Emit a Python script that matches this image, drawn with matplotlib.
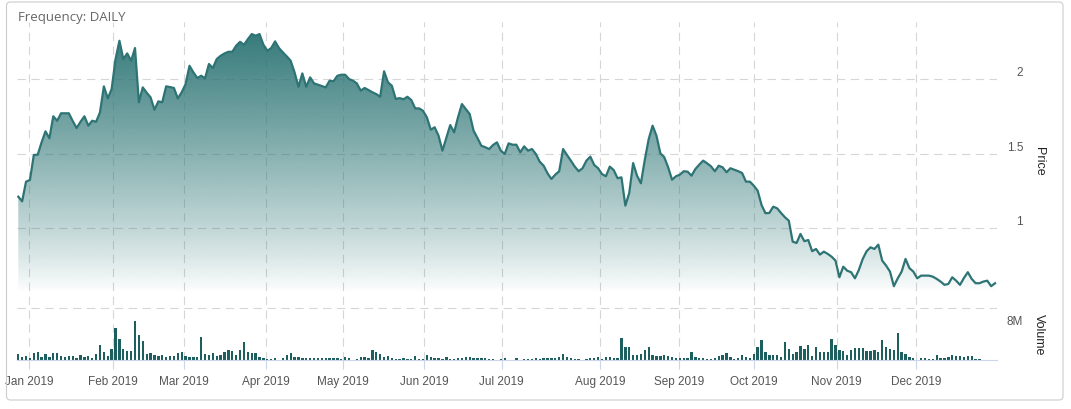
import numpy as np
import matplotlib.pyplot as plt
from matplotlib import transforms
from matplotlib.patches import FancyBboxPatch

# daily closing price, one value per trading day (2019)
price = [
    1.212, 1.181, 1.313, 1.324, 1.492, 1.494, 1.577, 1.651, 1.604, 1.752,
    1.722, 1.772, 1.772, 1.772, 1.720, 1.673, 1.715, 1.752, 1.689, 1.722,
    1.715, 1.778, 1.953, 1.872, 1.935, 2.136, 2.259, 2.136, 2.174, 2.125,
    2.210, 1.846, 1.946, 1.910, 1.879, 1.796, 1.852, 1.846, 1.953, 1.948,
    1.942, 1.872, 1.913, 1.968, 2.091, 2.047, 2.009, 2.024, 2.007, 2.103,
    2.076, 2.136, 2.158, 2.174, 2.185, 2.185, 2.226, 2.252, 2.232, 2.270,
    2.304, 2.293, 2.304, 2.232, 2.192, 2.210, 2.255, 2.210, 2.181, 2.154,
    2.125, 2.047, 1.950, 2.040, 1.950, 2.013, 1.973, 1.964, 1.955, 1.946,
    1.991, 1.987, 2.024, 2.031, 2.031, 2.002, 1.991, 1.973, 1.924, 1.942,
    1.928, 1.913, 1.901, 1.883, 2.054, 1.980, 1.957, 1.868, 1.874, 1.866,
    1.883, 1.861, 1.805, 1.805, 1.789, 1.745, 1.662, 1.678, 1.621, 1.521,
    1.606, 1.693, 1.644, 1.745, 1.834, 1.801, 1.767, 1.655, 1.606, 1.554,
    1.544, 1.532, 1.559, 1.577, 1.521, 1.499, 1.570, 1.561, 1.561, 1.510,
    1.550, 1.521, 1.532, 1.499, 1.447, 1.420, 1.369, 1.331, 1.360, 1.383,
    1.532, 1.492, 1.454, 1.414, 1.383, 1.403, 1.454, 1.481, 1.425, 1.403,
    1.364, 1.349, 1.414, 1.391, 1.336, 1.342, 1.152, 1.237, 1.438, 1.353,
    1.302, 1.460, 1.599, 1.689, 1.621, 1.503, 1.477, 1.409, 1.326, 1.349,
    1.360, 1.383, 1.380, 1.353, 1.398, 1.427, 1.454, 1.436, 1.416, 1.383,
    1.420, 1.409, 1.376, 1.403, 1.393, 1.383, 1.371, 1.313, 1.313, 1.286,
    1.252, 1.156, 1.101, 1.103, 1.145, 1.134, 1.103, 1.074, 1.051, 0.910,
    0.901, 0.962, 0.913, 0.921, 0.846, 0.861, 0.823, 0.843, 0.828, 0.809,
    0.783, 0.671, 0.742, 0.715, 0.705, 0.664, 0.720, 0.794, 0.846, 0.872,
    0.861, 0.890, 0.783, 0.749, 0.709, 0.611, 0.664, 0.709, 0.794, 0.732,
    0.709, 0.664, 0.682, 0.682, 0.682, 0.675, 0.660, 0.642, 0.620, 0.626,
    0.671, 0.648, 0.620, 0.666, 0.705, 0.660, 0.631, 0.631, 0.642, 0.648,
    0.611, 0.631,
]

# daily volume, millions of shares
volume = [
    0.9, 0.5, 0.55, 0.3, 1.1, 1.2, 0.5, 0.9, 0.5, 1.1,
    1.1, 0.55, 0.5, 0.6, 0.6, 0.3, 0.75, 0.4, 0.55, 0.3,
    0.9, 2.3, 1.2, 0.6, 1.7, 4.9, 3.2, 1.7, 1.4, 1.4,
    6.0, 3.8, 2.9, 0.9, 1.1, 0.8, 0.6, 0.8, 0.5, 0.6,
    0.6, 1.1, 1.2, 0.6, 0.5, 0.5, 0.5, 3.5, 0.9, 0.8,
    1.1, 0.6, 0.7, 1.2, 1.5, 1.4, 0.8, 1.5, 2.8, 1.2,
    1.1, 1.1, 0.5, 0.3, 0.15, 0.2, 0.25, 0.0, 0.35, 0.8,
    1.1, 0.45, 0.45, 0.35, 0.35, 0.3, 0.25, 0.25, 0.25, 0.25,
    0.25, 0.25, 0.25, 0.2, 0.4, 0.25, 0.05, 0.2, 0.4, 0.4,
    0.25, 1.5, 1.2, 0.9, 0.5, 0.6, 0.25, 0.2, 0.2, 0.3,
    0.1, 0.2, 0.6, 0.1, 0.15, 0.8, 0.4, 0.3, 0.35, 0.2,
    0.4, 0.15, 0.1, 0.3, 0.3, 0.45, 0.45, 0.35, 0.25, 0.25,
    0.3, 0.2, 0.2, 0.05, 0.1, 0.3, 0.05, 0.05, 0.25, 0.05,
    0.1, 0.2, 0.2, 0.25, 0.2, 0.25, 0.3, 0.3, 0.3, 0.45,
    0.9, 0.4, 0.3, 0.2, 0.1, 0.0, 0.2, 0.3, 0.3, 0.4,
    0.2, 0.5, 0.5, 0.3, 0.3, 3.4, 2.0, 2.0, 0.8, 0.8,
    1.0, 1.5, 2.0, 0.8, 0.6, 0.6, 0.7, 0.6, 0.45, 0.3,
    0.25, 0.25, 0.35, 1.2, 0.45, 0.35, 0.25, 0.2, 0.2, 0.35,
    0.6, 0.8, 1.1, 0.45, 0.2, 0.35, 0.7, 0.45, 0.35, 0.9,
    2.0, 3.1, 1.2, 0.8, 0.8, 0.8, 0.45, 2.8, 1.7, 0.9,
    1.2, 2.2, 1.7, 2.3, 0.6, 2.0, 1.2, 1.2, 1.2, 3.2,
    2.3, 1.5, 1.4, 0.8, 1.5, 1.8, 1.8, 1.9, 1.4, 1.4,
    1.5, 1.2, 3.1, 2.0, 1.7, 1.5, 4.2, 1.2, 0.9, 0.45,
    0.25, 0.0, 0.35, 0.35, 0.15, 0.2, 0.75, 0.35, 0.35, 0.45,
    0.75, 0.6, 0.6, 0.45, 0.6, 0.6, 0.2, 0.2, 0.0, 0.0,
    0.0, 0.0,
]

# month labels and the trading-day index where each one sits
month_labels = ["Jan 2019", "Feb 2019", "Mar 2019", "Apr 2019", "May 2019", "Jun 2019",
                "Jul 2019", "Aug 2019", "Sep 2019", "Oct 2019", "Nov 2019", "Dec 2019"]
month_idx = [2.8, 24.3, 42.6, 63.6, 83.4, 104.3, 124.2, 149.5, 169.8, 189.1, 210.3, 230.8]

price_ticks = [1, 1.5, 2]
price_tick_labels = ["1", "1.5", "2"]
volume_ticks = [8]
volume_tick_labels = ["8M"]

W, H = 1071, 410
TEAL = "#2e7475"
GRID = "#d6d6d6"
DASH = (0, (7.5, 5))
plt.rcParams['font.family'] = ['Liberation Sans', 'DejaVu Sans']

fig = plt.figure(figsize=(W / 100, H / 100), dpi=100)


def px_box(x0, y0, x1, y1):
    return [x0 / W, 1 - y1 / H, (x1 - x0) / W, (y1 - y0) / H]


ax = fig.add_axes(px_box(16.7, 23, 997, 293))
axv = fig.add_axes(px_box(16.7, 296, 997, 361))

x = np.arange(len(price))
xlim = (-0.4, 251.5)
ylim = (0.572, 2.385)

# price panel: gradient area under the line
ax.set_xlim(*xlim)
ax.set_ylim(*ylim)
grad = np.zeros((256, 1, 4))
grad[..., :3] = np.array([47, 118, 118]) / 255
grad[..., 3] = np.linspace(1.0, 0.0, 256)[:, None] ** 0.85
im = ax.imshow(grad, extent=[xlim[0], xlim[1], ylim[0], ylim[1]],
               aspect='auto', origin='upper', zorder=1, interpolation='bilinear')
area = ax.fill_between(x, price, ylim[0], color='none', lw=0)
im.set_clip_path(area.get_paths()[0], transform=ax.transData)
ax.plot(x, price, color=TEAL, lw=1.6, zorder=3, solid_joinstyle='round')

for v in price_ticks:
    ax.axhline(v, color=GRID, lw=0.8, ls=DASH, zorder=0)
for t in month_idx:
    ax.axvline(t, ymin=-0.252, ymax=1, color=GRID, lw=0.8, ls=DASH, zorder=0, clip_on=False)

lab_tf = transforms.offset_copy(ax.get_yaxis_transform(), fig, y=7, units='dots')
for v, s in zip(price_ticks, price_tick_labels):
    ax.text(1.0266, v, s, transform=lab_tf, ha='right', va='center', fontsize=8.5, color='#555555')

ax.set_xticks([])
ax.set_yticks([])
for sp in ax.spines.values():
    sp.set_visible(False)
ax.patch.set_visible(False)

# volume panel
axv.set_xlim(*xlim)
axv.set_ylim(0, 10)
axv.patch.set_visible(False)
axv.bar(x, volume, width=0.6, color='#1d5f5f', zorder=2)
for v in volume_ticks:
    axv.axhline(v, color=GRID, lw=0.8, ls=DASH, zorder=0)
vlab_tf = transforms.offset_copy(axv.get_yaxis_transform(), fig, y=-13, units='dots')
for v, s in zip(volume_ticks, volume_tick_labels):
    axv.text(1.0266, v, s, transform=vlab_tf, ha='right', va='center', fontsize=8.5, color='#555555')

for side in ['top', 'left', 'right']:
    axv.spines[side].set_visible(False)
axv.spines['bottom'].set_color('#ccd6eb')
axv.spines['bottom'].set_linewidth(0.8)
axv.set_yticks([])
axv.set_xticks(month_idx)
axv.set_xticklabels(month_labels)
axv.tick_params(axis='x', length=6.5, width=0.8, color='#ccd6eb', labelcolor='#555555',
                labelsize=8.5, pad=4)

# axis titles on the right
fig.text(1039 / W, 1 - 161 / H, "Price", rotation=270, ha='center', va='center',
         fontsize=9, color='#222222')
fig.text(1039 / W, 1 - 335 / H, "Volume", rotation=270, ha='center', va='center',
         fontsize=9, color='#222222')

fig.text(17.5 / W, 1 - 18 / H, "Frequency: DAILY", ha='left', va='center',
         fontsize=9.5, color='#666666', family=['Open Sans', 'DejaVu Sans'])

# rounded outer frame
frame = FancyBboxPatch((0.065, 0.09), 10.565, 3.98, boxstyle='round,pad=0,rounding_size=0.04',
                       transform=fig.dpi_scale_trans, fill=False, edgecolor='#cccccc', lw=0.8)
fig.patches.append(frame)

fig.savefig('out.png', dpi=100)
